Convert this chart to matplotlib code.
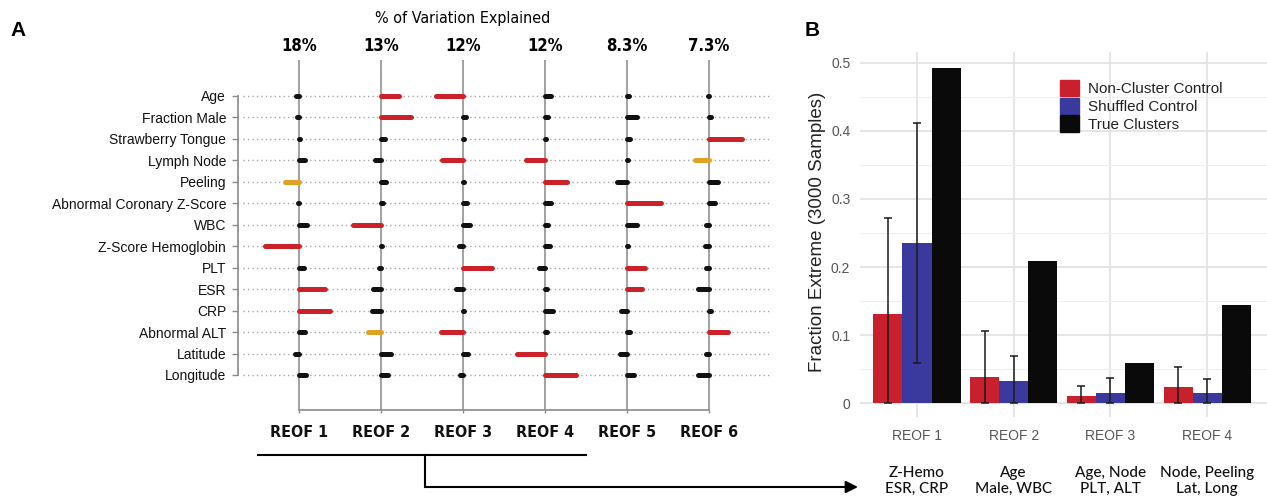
import matplotlib
matplotlib.use('Agg')
import matplotlib.pyplot as plt
import numpy as np
from matplotlib import font_manager
from matplotlib.lines import Line2D
from matplotlib.patches import FancyArrowPatch, Patch

# ---- panel A data ----
features = ['Age', 'Fraction Male', 'Strawberry Tongue', 'Lymph Node', 'Peeling',
            'Abnormal Coronary Z-Score', 'WBC', 'Z-Score Hemoglobin', 'PLT', 'ESR',
            'CRP', 'Abnormal ALT', 'Latitude', 'Longitude']
reofs = ['REOF 1', 'REOF 2', 'REOF 3', 'REOF 4', 'REOF 5', 'REOF 6']
pct_explained = ['18%', '13%', '12%', '12%', '8.3%', '7.3%']

# rotated loadings (same order as features)
reof1 = [-0.04, -0.02, 0.01, 0.07, -0.17, -0.01, 0.10, -0.41, 0.06, 0.32, 0.38, 0.07, -0.05, 0.09]
reof2 = [0.22, 0.37, 0.05, -0.07, 0.06, 0.02, -0.34, 0.01, -0.02, -0.10, -0.11, -0.16, 0.12, 0.09]
reof3 = [-0.33, 0.04, 0.01, -0.26, 0.01, 0.05, 0.09, -0.05, 0.35, -0.09, 0.01, -0.27, 0.06, -0.04]
reof4 = [0.07, 0.04, 0.01, -0.23, 0.27, 0.07, 0.04, 0.06, -0.07, 0.02, 0.10, 0.02, -0.34, 0.38]
reof5 = [0.02, 0.12, 0.04, 0.01, -0.12, 0.41, 0.12, 0.01, 0.22, 0.18, -0.07, 0.04, -0.09, 0.09]
reof6 = [-0.01, 0.02, 0.40, -0.17, 0.11, 0.07, -0.04, -0.05, -0.04, -0.13, 0.02, 0.23, -0.04, -0.13]

# 2 = strong (red), 1 = borderline (orange), 0 = weak (black)
sig1 = [0, 0, 0, 0, 1, 0, 0, 2, 0, 2, 2, 0, 0, 0]
sig2 = [2, 2, 0, 0, 0, 0, 2, 0, 0, 0, 0, 1, 0, 0]
sig3 = [2, 0, 0, 2, 0, 0, 0, 0, 2, 0, 0, 2, 0, 0]
sig4 = [0, 0, 0, 2, 2, 0, 0, 0, 0, 0, 0, 0, 2, 2]
sig5 = [0, 0, 0, 0, 0, 2, 0, 0, 2, 2, 0, 0, 0, 0]
sig6 = [0, 0, 2, 1, 0, 0, 0, 0, 0, 0, 0, 2, 0, 0]

# ---- panel B data ----
groups = ['REOF 1', 'REOF 2', 'REOF 3', 'REOF 4']
drivers = ['Z-Hemo\nESR, CRP', 'Age\nMale, WBC', 'Age, Node\nPLT, ALT', 'Node, Peeling\nLat, Long']
noncluster = [0.131, 0.039, 0.011, 0.024]
noncluster_lo = [0.0, 0.0, 0.0, 0.0]
noncluster_hi = [0.272, 0.106, 0.025, 0.054]
shuffled = [0.235, 0.033, 0.016, 0.016]
shuffled_lo = [0.059, 0.0, 0.0, 0.0]
shuffled_hi = [0.411, 0.070, 0.037, 0.036]
true_clusters = [0.492, 0.209, 0.059, 0.145]

W, H = 1267, 504
plt.rcParams['font.family'] = ['Liberation Sans', 'DejaVu Sans']
names = {f.name for f in font_manager.fontManager.ttflist}
narrow = 'Liberation Sans Narrow' if 'Liberation Sans Narrow' in names else 'DejaVu Sans'


def fx(x):
    return x / W


def fy(y):
    return 1 - y / H


fig = plt.figure(figsize=(W / 100, H / 100), dpi=100)

# ---------------- panel A ----------------
# columns 82 px apart starting at x=299; rows 21.46 px apart starting at y=96
ax_a = fig.add_axes([fx(238), fy(410), (775 - 238) / W, (410 - 60) / H])
ax_a.set_xlim(-61 / 82, 476 / 82)
ax_a.set_ylim((410 - 96) / 21.46, (60 - 96) / 21.46)

loadings = [reof1, reof2, reof3, reof4, reof5, reof6]
sigs = [sig1, sig2, sig3, sig4, sig5, sig6]
sig_colors = {0: '#111111', 1: '#e0a126', 2: '#cc2128'}

rows = np.arange(len(features))
for r in rows:
    ax_a.plot([(243 - 299) / 82, (772 - 299) / 82], [r, r], color='#a8a8a8',
              lw=1.0, linestyle=(0, (1, 2.2)), zorder=1, clip_on=False)
for c in range(len(reofs)):
    ax_a.axvline(c, color='#9a9a9a', lw=1.3, zorder=2)
for c, (vals, sg) in enumerate(zip(loadings, sigs)):
    for r, (v, s) in enumerate(zip(vals, sg)):
        ax_a.plot([c, c + v], [r, r], color=sig_colors[s], lw=3.6,
                  solid_capstyle='round', zorder=3, clip_on=False)

for side in ['top', 'right']:
    ax_a.spines[side].set_visible(False)
ax_a.spines['left'].set_bounds(0, len(features) - 1)
ax_a.spines['bottom'].set_bounds(0, len(reofs) - 1)
for side in ['left', 'bottom']:
    ax_a.spines[side].set_color('#8a8a8a')
    ax_a.spines[side].set_linewidth(1.2)
ax_a.set_yticks(rows)
ax_a.set_yticklabels(features, fontsize=10, color='#111111')
ax_a.tick_params(axis='y', length=4.5, width=1.0, color='#8a8a8a', pad=4)
ax_a.set_xticks(range(len(reofs)))
ax_a.set_xticklabels(reofs, fontsize=11.5, fontweight='bold', family=narrow,
                     fontstretch='condensed', color='#111111')
ax_a.tick_params(axis='x', length=2.5, width=1.0, color='#8a8a8a', pad=8)

for c, p in enumerate(pct_explained):
    fig.text(fx(299 + 82 * c), fy(46), p, ha='center', va='center', fontsize=12,
             fontweight='bold', family=narrow, fontstretch='condensed')
fig.text(fx(463), fy(18), '% of Variation Explained', ha='center', va='center',
         fontsize=11.5, family=narrow, fontstretch='condensed')

fig.text(fx(18), fy(30), 'A', ha='center', va='center', fontsize=15, fontweight='bold')
fig.text(fx(812), fy(30), 'B', ha='center', va='center', fontsize=15, fontweight='bold')

# bracket + arrow linking panel A to panel B
fig.add_artist(Line2D([fx(258), fx(586)], [fy(455), fy(455)], color='black', lw=1.5))
fig.add_artist(Line2D([fx(425), fx(425)], [fy(455), fy(487)], color='black', lw=1.5))
fig.add_artist(FancyArrowPatch((fx(425), fy(487)), (fx(858), fy(487)),
                               transform=fig.transFigure, arrowstyle='-|>',
                               mutation_scale=18, lw=1.5, color='black',
                               shrinkA=0, shrinkB=0))

# ---------------- panel B ----------------
ax_b = fig.add_axes([fx(860), fy(417), (1267 - 860) / W, (417 - 52) / H])
x = np.arange(len(groups))
bw = 0.3
red, blue, black = '#c8202c', '#3a3a9e', '#0a0a0a'
nc, sh = np.array(noncluster), np.array(shuffled)
ax_b.bar(x - bw, noncluster, bw, color=red, label='Non-Cluster Control', zorder=2)
ax_b.bar(x, shuffled, bw, color=blue, label='Shuffled Control', zorder=2)
ax_b.bar(x + bw, true_clusters, bw, color=black, label='True Clusters', zorder=2)
ax_b.errorbar(x - bw, nc, yerr=[nc - np.array(noncluster_lo), np.array(noncluster_hi) - nc],
              fmt='none', ecolor='#1a1a1a', elinewidth=1.1, capsize=3, capthick=1.1, zorder=3)
ax_b.errorbar(x, sh, yerr=[sh - np.array(shuffled_lo), np.array(shuffled_hi) - sh],
              fmt='none', ecolor='#1a1a1a', elinewidth=1.1, capsize=3, capthick=1.1, zorder=3)

ax_b.set_xlim((860 - 917) / 96.67, (1267 - 917) / 96.67)
ax_b.set_ylim(-0.0198, 0.5154)
ax_b.set_yticks([0, 0.1, 0.2, 0.3, 0.4, 0.5])
ax_b.set_yticklabels(['0', '0.1', '0.2', '0.3', '0.4', '0.5'])
ax_b.set_yticks([0.05, 0.15, 0.25, 0.35, 0.45], minor=True)
ax_b.set_xticks(x)
ax_b.set_xticklabels(groups)
ax_b.tick_params(axis='both', which='both', length=0, labelsize=10, colors='#555555')
ax_b.tick_params(axis='x', pad=9)
ax_b.tick_params(axis='y', pad=7)
ax_b.grid(which='major', color='#e4e4e4', lw=1.3)
ax_b.grid(which='minor', axis='y', color='#efefef', lw=0.8)
ax_b.set_axisbelow(True)
for s in ax_b.spines.values():
    s.set_visible(False)

fig.text(fx(817), fy(232), 'Fraction Extreme (3000 Samples)', rotation=90,
         ha='center', va='center', fontsize=13.5, color='#222222')

handles = [Patch(color=red), Patch(color=blue), Patch(color=black)]
fig.legend(handles, ['Non-Cluster Control', 'Shuffled Control', 'True Clusters'],
           loc='upper left', bbox_to_anchor=(fx(1060), fy(80)), frameon=False,
           fontsize=11, handlelength=1.25, handleheight=1.25, labelspacing=0.1,
           handletextpad=0.55, borderpad=0, borderaxespad=0, labelcolor='#222222')

for xi, d in zip(x, drivers):
    fig.text(fx(917 + 96.67 * xi), fy(481), d, ha='center', va='center',
             fontsize=11, family=['Lato', 'DejaVu Sans'], fontweight='medium',
             linespacing=1.2, color='#111111')

fig.savefig('out.png', dpi=100)
